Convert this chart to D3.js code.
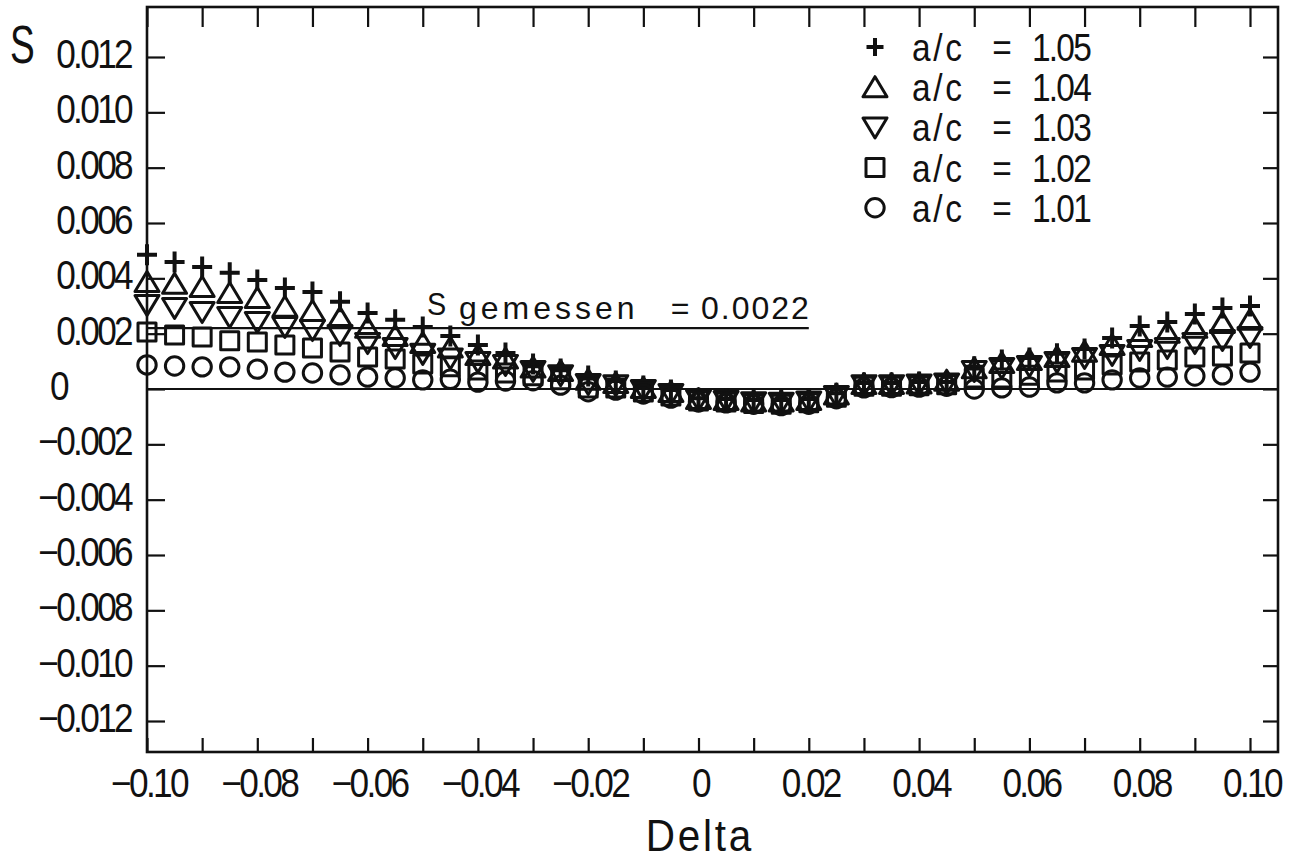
<!DOCTYPE html>
<html>
<head>
<meta charset="utf-8">
<script src="https://cdn.jsdelivr.net/npm/d3@7"></script>
<style>
  body { margin: 0; background: #fff; }
  svg { display: block; }
  text { font-family: "Liberation Sans", Arial, sans-serif; fill: #111; }
</style>
</head>
<body>
<svg id="chart" width="1296" height="863"></svg>
<script>
// Delta values at which S was evaluated
const deltas = [-0.100, -0.095, -0.090, -0.085, -0.080, -0.075, -0.070, -0.065, -0.060, -0.055,
                -0.050, -0.045, -0.040, -0.035, -0.030, -0.025, -0.020, -0.015, -0.010, -0.005,
                 0.000,  0.005,  0.010,  0.015,  0.020,  0.025,  0.030,  0.035,  0.040,  0.045,
                 0.050,  0.055,  0.060,  0.065,  0.070,  0.075,  0.080,  0.085,  0.090,  0.095, 0.100];

// S for a/c = 1.05
const sAc105 = [0.00485, 0.00459, 0.00441, 0.00420, 0.00394, 0.00365, 0.00351, 0.00315, 0.00275, 0.00250,
                0.00224, 0.00192, 0.00159, 0.00130, 0.00090, 0.00072, 0.00047, 0.00029, 0.00011, -0.00004,
               -0.00033, -0.00036, -0.00040, -0.00040, -0.00036, -0.00015, 0.00022, 0.00022, 0.00025, 0.00025,
                0.00080, 0.00105, 0.00112, 0.00127, 0.00145, 0.00184, 0.00228, 0.00242, 0.00271, 0.00293, 0.00300];
// S for a/c = 1.04
const sAc104 = [0.00387, 0.00380, 0.00369, 0.00347, 0.00329, 0.00297, 0.00282, 0.00257, 0.00221, 0.00192,
                0.00166, 0.00150, 0.00123, 0.00110, 0.00078, 0.00065, 0.00033, 0.00022, 0.00004, -0.00011,
               -0.00036, -0.00040, -0.00045, -0.00045, -0.00040, -0.00020, 0.00018, 0.00018, 0.00020, 0.00030,
                0.00075, 0.00094, 0.00105, 0.00116, 0.00135, 0.00159, 0.00188, 0.00203, 0.00221, 0.00239, 0.00250];
// S for a/c = 1.03
const sAc103 = [0.00304, 0.00293, 0.00278, 0.00260, 0.00242, 0.00224, 0.00213, 0.00195, 0.00166, 0.00148,
                0.00127, 0.00110, 0.00098, 0.00087, 0.00065, 0.00050, 0.00018, 0.00014, -0.00004, -0.00018,
               -0.00040, -0.00043, -0.00048, -0.00050, -0.00045, -0.00025, 0.00014, 0.00014, 0.00016, 0.00020,
                0.00065, 0.00076, 0.00083, 0.00098, 0.00112, 0.00123, 0.00141, 0.00148, 0.00166, 0.00177, 0.00188];
// S for a/c = 1.02
const sAc102 = [0.00206, 0.00195, 0.00188, 0.00174, 0.00170, 0.00159, 0.00148, 0.00134, 0.00116, 0.00108,
                0.00090, 0.00080, 0.00069, 0.00058, 0.00048, 0.00033, 0.00004, 0.00004, -0.00011, -0.00025,
               -0.00043, -0.00047, -0.00052, -0.00055, -0.00050, -0.00030, 0.00010, 0.00010, 0.00012, 0.00015,
                0.00040, 0.00040, 0.00050, 0.00061, 0.00069, 0.00087, 0.00098, 0.00105, 0.00116, 0.00119, 0.00130];
// S for a/c = 1.01
const sAc101 = [0.00087, 0.00083, 0.00080, 0.00080, 0.00072, 0.00061, 0.00058, 0.00051, 0.00043, 0.00040,
                0.00033, 0.00035, 0.00025, 0.00029, 0.00030, 0.00014, -0.00010, -0.00004, -0.00018, -0.00033,
               -0.00047, -0.00050, -0.00055, -0.00060, -0.00055, -0.00035, 0.00004, 0.00005, 0.00007, 0.00010,
                0.00000, 0.00004, 0.00007, 0.00022, 0.00022, 0.00033, 0.00040, 0.00043, 0.00047, 0.00051, 0.00061];

const seriesNames = ["1.05", "1.04", "1.03", "1.02", "1.01"];
const seriesMarkers = ["plus", "triUp", "triDown", "square", "circle"];
const seriesValues = [sAc105, sAc104, sAc103, sAc102, sAc101];

// measured reference level
const sMeasured = 0.0022;

// axis ticks and labels
const xMinorTicks = [-0.10, -0.09, -0.08, -0.07, -0.06, -0.05, -0.04, -0.03, -0.02, -0.01, 0,
                      0.01, 0.02, 0.03, 0.04, 0.05, 0.06, 0.07, 0.08, 0.09, 0.10];
const xLabelTicks = [-0.10, -0.08, -0.06, -0.04, -0.02, 0, 0.02, 0.04, 0.06, 0.08, 0.10];
const xLabelText  = ["\u22120.10", "\u22120.08", "\u22120.06", "\u22120.04", "\u22120.02", "0",
                     "0.02", "0.04", "0.06", "0.08", "0.10"];
const yTicks = [0.012, 0.010, 0.008, 0.006, 0.004, 0.002, 0, -0.002, -0.004, -0.006, -0.008, -0.010, -0.012];
const yLabelText = ["0.012", "0.010", "0.008", "0.006", "0.004", "0.002", "0",
                    "\u22120.002", "\u22120.004", "\u22120.006", "\u22120.008", "\u22120.010", "\u22120.012"];

const svg = d3.select("#chart");
const ink = "#111";

// frame
const frame = { left: 147, right: 1278, top: 7, bottom: 752 };

const x = d3.scaleLinear().domain([-0.10, 0.10]).range([147, 1250]);
const y = d3.scaleLinear().domain([-0.012, 0.012]).range([721, 57]);

// condensed text helper
function ctext(g, px, py, str, size, opts = {}) {
  const k = opts.k ?? 0.88;
  return g.append("text")
    .attr("transform", `translate(${px},${py}) scale(${k},1)`)
    .attr("text-anchor", opts.anchor || "start")
    .style("font-size", size + "px")
    .style("letter-spacing", (opts.ls ?? -3) + "px")
    .text(str);
}

// tick marks via d3 axes (inward ticks on all four sides)
function styleAxis(g) {
  g.select(".domain").remove();
  g.selectAll(".tick line").attr("stroke", ink).attr("stroke-width", 2.2);
  g.selectAll(".tick text").remove();
}
svg.append("g").attr("transform", `translate(0,${frame.bottom})`)
  .call(d3.axisBottom(x).tickValues(xMinorTicks).tickSize(-14).tickFormat(""))
  .call(styleAxis);
svg.append("g").attr("transform", `translate(0,${frame.top})`)
  .call(d3.axisTop(x).tickValues(xMinorTicks).tickSize(-20).tickFormat(""))
  .call(styleAxis);
svg.append("g").attr("transform", `translate(${frame.left},0)`)
  .call(d3.axisLeft(y).tickValues(yTicks).tickSize(-18).tickFormat(""))
  .call(styleAxis);
svg.append("g").attr("transform", `translate(${frame.right},0)`)
  .call(d3.axisRight(y).tickValues(yTicks).tickSize(-15).tickFormat(""))
  .call(styleAxis);

// frame box
svg.append("rect")
  .attr("x", frame.left).attr("y", frame.top)
  .attr("width", frame.right - frame.left).attr("height", frame.bottom - frame.top)
  .attr("fill", "none").attr("stroke", ink).attr("stroke-width", 2.6);

// zero line
svg.append("line")
  .attr("x1", frame.left).attr("x2", frame.right)
  .attr("y1", y(0)).attr("y2", y(0))
  .attr("stroke", ink).attr("stroke-width", 2.2);

// measured S line, ending at Delta = 0.02
svg.append("line")
  .attr("x1", frame.left).attr("x2", x(0.02))
  .attr("y1", y(sMeasured)).attr("y2", y(sMeasured))
  .attr("stroke", ink).attr("stroke-width", 2.2);

// axis labels
const labels = svg.append("g");
xLabelTicks.forEach((v, i) => {
  ctext(labels, x(v) + 2, 797, xLabelText[i], 40, { anchor: "middle" });
});
yTicks.forEach((v, i) => {
  if (v === 0) ctext(labels, 50, y(v) + 11, yLabelText[i], 40);
  else ctext(labels, 131, y(v) + 11, yLabelText[i], 40, { anchor: "end" });
});
ctext(labels, 700, 851, "Delta", 44, { anchor: "middle", ls: 3, k: 0.92 });
ctext(labels, 10, 63, "S", 53, { k: 0.7, ls: 0 });

// S gemessen annotation
const yMeas = y(sMeasured);
ctext(labels, 427, yMeas - 13, "S", 32, { k: 0.9, ls: 0 });
ctext(labels, 459, yMeas - 9, "gemessen", 32, { k: 1, ls: 4 });
ctext(labels, 680, yMeas - 9, "=", 32, { k: 1, ls: 0, anchor: "middle" });
ctext(labels, 701, yMeas - 9, "0.0022", 32, { k: 1, ls: 2 });

// marker drawing
function drawMarker(g, type, cx, cy, scale = 1) {
  const s = scale;
  if (type === "circle") {
    return g.append("circle").attr("cx", cx).attr("cy", cy).attr("r", 9.2 * s)
      .attr("fill", "none").attr("stroke", ink).attr("stroke-width", 3);
  }
  let d;
  if (type === "plus") d = `M${-10 * s},0H${10 * s}M0,${-10.5 * s}V${10.5 * s}`;
  else if (type === "triUp") d = `M0,${-10.5 * s}L${12 * s},${9.5 * s}L${-12 * s},${9.5 * s}Z`;
  else if (type === "triDown") d = `M0,${10.5 * s}L${12 * s},${-9.5 * s}L${-12 * s},${-9.5 * s}Z`;
  else d = `M${-9 * s},${-9 * s}h${18 * s}v${18 * s}h${-18 * s}Z`;
  return g.append("path").attr("transform", `translate(${cx},${cy})`).attr("d", d)
    .attr("fill", "none").attr("stroke", ink)
    .attr("stroke-width", type === "plus" ? 4 : 3)
    .attr("stroke-linejoin", "round");
}

const marks = svg.append("g");
seriesValues.forEach((vals, si) => {
  vals.forEach((v, i) => drawMarker(marks, seriesMarkers[si], x(deltas[i]), y(v)));
});

// legend
const legend = svg.append("g");
seriesNames.forEach((name, i) => {
  const ry = 47 + i * 40.2;
  drawMarker(legend, seriesMarkers[i], 875, ry, i === 0 ? 0.85 : 1);
  ctext(legend, 912, ry + 14, "a/c", 38, { ls: 3 });
  ctext(legend, 1002, ry + 14, "=", 38, { anchor: "middle", ls: 0 });
  ctext(legend, 1032, ry + 14, name, 38, { ls: -2 });
});
</script>
</body>
</html>
